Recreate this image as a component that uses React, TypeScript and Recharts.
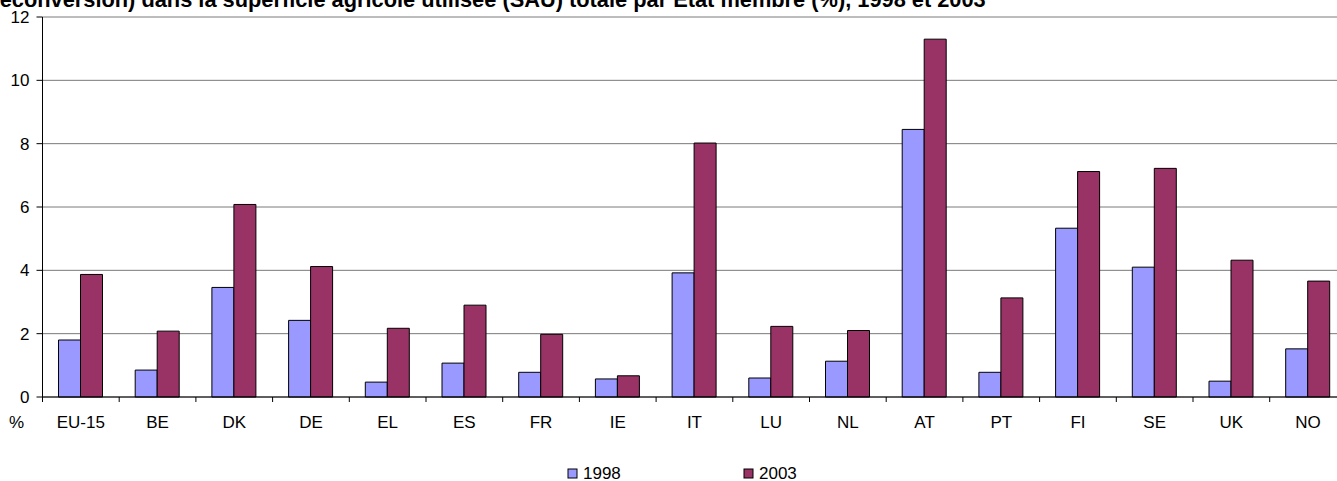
import { BarChart, Bar, XAxis, YAxis, CartesianGrid } from 'recharts';

const countries = ['EU-15', 'BE', 'DK', 'DE', 'EL', 'ES', 'FR', 'IE', 'IT', 'LU', 'NL', 'AT', 'PT', 'FI', 'SE', 'UK', 'NO'];
const share1998 = [1.8, 0.85, 3.46, 2.42, 0.47, 1.07, 0.78, 0.57, 3.92, 0.6, 1.13, 8.45, 0.78, 5.33, 4.1, 0.5, 1.52];
const share2003 = [3.87, 2.08, 6.08, 4.12, 2.17, 2.9, 1.98, 0.67, 8.02, 2.23, 2.1, 11.3, 3.13, 7.12, 7.22, 4.32, 3.66];
const yTicks = [0, 2, 4, 6, 8, 10, 12];
const seriesNames = ['1998', '2003'];
const seriesColors = ['#9999FF', '#993366'];

const title = 'reconversion) dans la superficie agricole utilisée (SAU) totale par État membre (%), 1998 et 2003';

const data = countries.map((c, i) => ({ name: c, v1998: share1998[i], v2003: share2003[i] }));

const W = 1360;
const H = 481;
const M = { top: 17, right: 13.6, bottom: 54, left: 0 };
const Y_W = 42.5;
const BAND = (W - M.left - M.right - Y_W) / countries.length;
const FONT = '"Liberation Sans", Arial, sans-serif';

const CountryTick = ({ x, y, payload }: any) => {
    const left = x - BAND / 2;
    return (
        <g>
            <line x1={left} y1={y} x2={left} y2={y + 5} stroke="#000" strokeWidth={1} />
            <text x={x} y={y + 31} textAnchor="middle" fontSize={17} fill="#000" fontFamily={FONT}>
                {payload.value}
            </text>
        </g>
    );
};

export default function App() {
    return (
        <div style={{ position: 'fixed', left: 0, top: 0, width: 1337, height: H, overflow: 'hidden', background: '#fff', fontFamily: FONT }}>
            <BarChart width={W} height={H} data={data} margin={M} barGap={0} barSize={22}>
                <CartesianGrid horizontal={true} vertical={false} stroke="#7a7a7a" strokeWidth={1} />
                <XAxis
                    dataKey="name"
                    height={30}
                    axisLine={{ stroke: '#000' }}
                    tickLine={false}
                    tickSize={0}
                    tickMargin={0}
                    interval={0}
                    tick={<CountryTick />}
                />
                <YAxis
                    width={Y_W}
                    domain={[0, 12]}
                    ticks={yTicks}
                    interval={0}
                    axisLine={{ stroke: '#000' }}
                    tickLine={{ stroke: '#000' }}
                    tickSize={6}
                    tickMargin={7}
                    tick={{ fill: '#000', fontSize: 17, fontFamily: FONT }}
                />
                <Bar dataKey="v1998" name={seriesNames[0]} fill={seriesColors[0]} stroke="#000" strokeWidth={1} isAnimationActive={false} />
                <Bar dataKey="v2003" name={seriesNames[1]} fill={seriesColors[1]} stroke="#000" strokeWidth={1} isAnimationActive={false} />
            </BarChart>
            <svg width={1337} height={H} style={{ position: 'absolute', left: 0, top: 0, pointerEvents: 'none' }}>
                <text x={-8.8} y={6.5} fontSize={21.8} fontWeight="bold" fill="#000" fontFamily={FONT}>{title}</text>
                <text x={9} y={428} fontSize={17} fill="#000" fontFamily={FONT}>%</text>
                {seriesNames.map((s, i) => (
                    <g key={s}>
                        <rect x={568 + i * 176} y={469} width={9} height={9} fill={seriesColors[i]} stroke="#000" strokeWidth={1} />
                        <text x={583 + i * 176} y={478.5} fontSize={17} fill="#000" fontFamily={FONT}>{s}</text>
                    </g>
                ))}
            </svg>
        </div>
    );
}
